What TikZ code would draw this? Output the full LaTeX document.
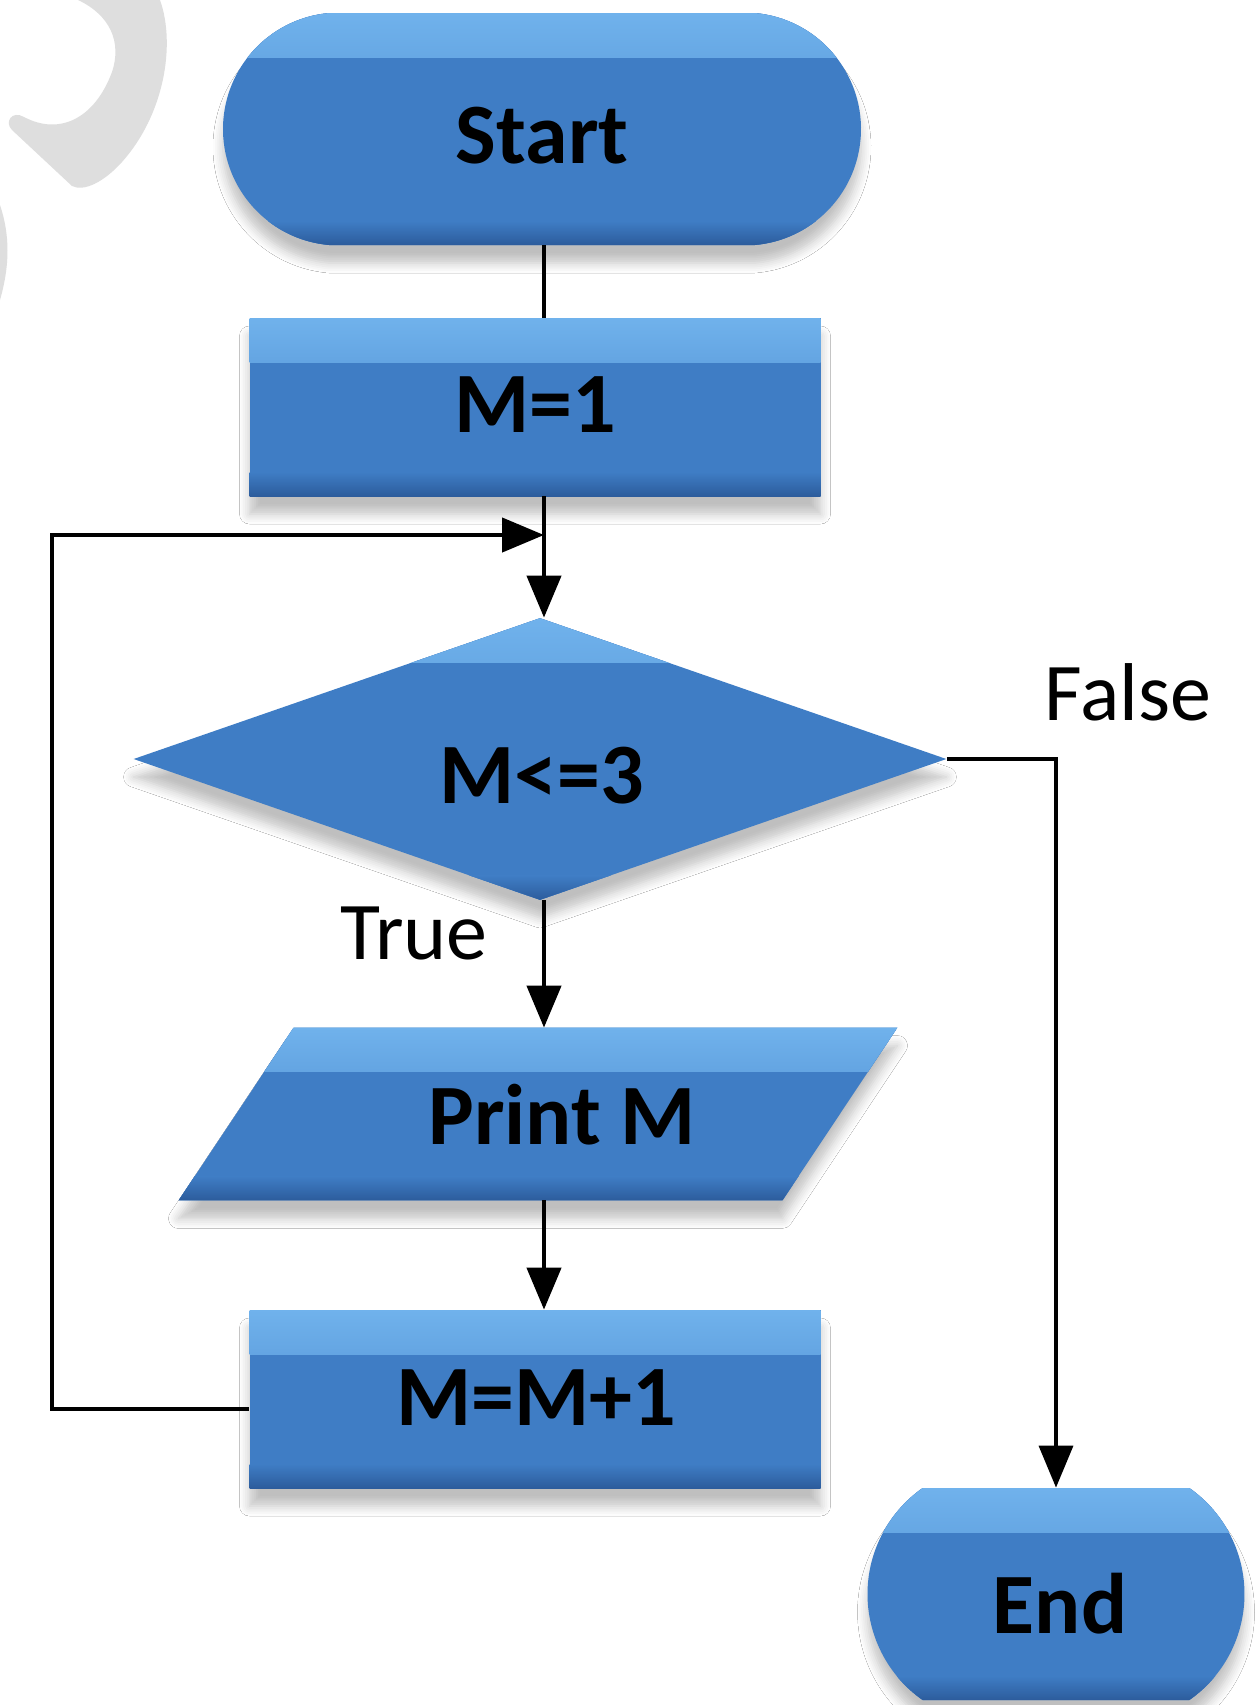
\documentclass[tikz,border=0pt]{standalone}
\usepackage{fontspec}
\setmainfont{Carlito}
\usetikzlibrary{shapes.geometric,shapes.misc,arrows.meta,calc,shadows.blur}
\definecolor{bmain}{RGB}{63,125,197}
\definecolor{blight}{RGB}{112,178,236}
\definecolor{bdark}{RGB}{44,92,156}
\definecolor{wmark}{RGB}{222,222,222}
\begin{document}
\begin{tikzpicture}[x=0.5pt,y=-0.5pt,
  shp/.style={fill=bmain, draw=none, inner sep=0pt,
    blur shadow={shadow xshift=0pt, shadow yshift=-9pt, shadow blur steps=6, shadow opacity=25, shadow blur radius=5pt},
    path picture={
      \fill[top color=blight, bottom color=bmain] (path picture bounding box.north west) rectangle ([yshift=-22pt]path picture bounding box.north east);
      \fill[top color=bmain, bottom color=bdark] ([yshift=12pt]path picture bounding box.south west) rectangle (path picture bounding box.south east);
    }},
  lbl/.style={font=\fontsize{43}{50}\selectfont\bfseries, text=black, inner sep=0pt},
  tag/.style={font=\fontsize{41}{49}\selectfont, text=black, inner sep=0pt},
  conn/.style={line width=2.2pt, black},
  arr/.style={conn, -{Triangle[length=21pt,width=17pt]}}
]
\useasboundingbox (0,0) rectangle (1255,1705);
\fill[white] (0,0) rectangle (1255,1705);

% watermark
\fill[wmark] (78,0) -- (160,0) .. controls (176,45) and (164,115) .. (122,162)
  .. controls (104,182) and (84,192) .. (72,186) -- (12,130)
  .. controls (4,122) and (12,110) .. (24,117)
  .. controls (60,136) and (95,118) .. (112,72)
  .. controls (122,42) and (110,15) .. (78,0) -- cycle;
\fill[wmark] (0,205) .. controls (10,235) and (10,265) .. (0,300) -- cycle;

% shapes
\node[shp, rounded rectangle, rounded rectangle arc length=170, minimum width=319pt, minimum height=116pt] (start) at (542,129) {};
\node[shp, rectangle, minimum width=285.5pt, minimum height=89pt] (m1) at (535,407) {};
\node[shp, diamond, minimum width=406.5pt, minimum height=141pt] (dec) at (540,759) {};
\node[rectangle, draw=none, minimum width=359pt, minimum height=86pt, inner sep=0pt] (print) at (538,1114) {};
\path[shp] ($(print.north west)+(57.5pt,0)$) -- (print.north east) -- ($(print.south east)-(57.5pt,0)$) -- (print.south west) -- cycle;
\node[shp, rectangle, minimum width=285.5pt, minimum height=89pt] (inc) at (535,1399) {};
\node[shp, rounded rectangle, rounded rectangle arc length=110, minimum width=188.5pt, minimum height=106pt] (end) at (1056,1594) {};

% texts
\node[lbl] (tstart) at (542,136) {Start};
\node[lbl] (tm1) at (535,405) {M=1};
\node[lbl] (tdec) at (542,776) {M<=3};
\node[lbl] (tprint) at (562,1115) {Print M};
\node[lbl] (tinc) at (536,1398) {M=M+1};
\node[lbl] (tend) at (1060,1604) {End};
\node[tag] (tfalse) at (1128,692) {False};
\node[tag] (ttrue) at (414,933) {True};

% connectors
\coordinate (spine) at (544,0);
\coordinate (loopc) at (52,535);
\draw[conn] (spine |- start.south) -- (spine |- m1.north);
\draw[arr] (spine |- m1.south) -- (spine |- dec.north);
\draw[arr] ([yshift=-5pt]inc.west) -| (loopc) -- (spine |- loopc);
\draw[arr] (spine |- dec.south) -- (spine |- print.north);
\draw[arr] (spine |- print.south) -- (spine |- inc.north);
\draw[arr, line width=1.8pt] (dec.east) -| (end.north);
\end{tikzpicture}
\end{document}
